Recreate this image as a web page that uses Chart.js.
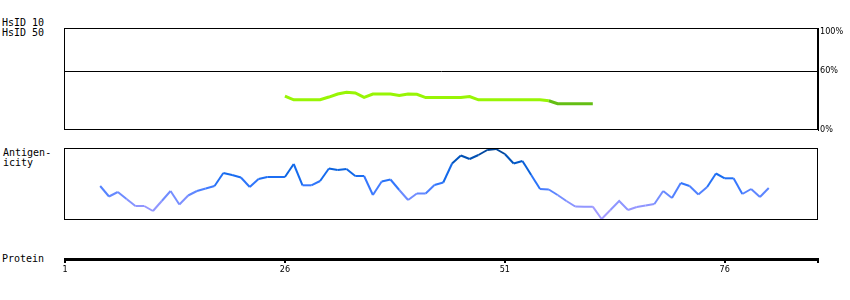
<!DOCTYPE html>
<html><head><meta charset="utf-8">
<script src="https://cdn.jsdelivr.net/npm/chart.js@4/dist/chart.umd.min.js"></script>
<style>
html,body{margin:0;padding:0;background:#fff;width:850px;height:300px;overflow:hidden;}
.lbl{position:absolute;font:10px "DejaVu Sans Mono",monospace;color:#000;line-height:10px;white-space:pre;}
canvas{position:absolute;left:0;}
</style></head><body>
<div class="lbl" style="left:2px;top:18px">HsID 10</div>
<div class="lbl" style="left:2px;top:28px">HsID 50</div>
<div class="lbl" style="left:3px;top:148px">Antigen-
icity</div>
<div class="lbl" style="left:2px;top:254px">Protein</div>
<canvas id="c1" width="850" height="140" style="top:0"></canvas>
<canvas id="c2" width="850" height="90" style="top:140px"></canvas>
<canvas id="c3" width="850" height="50" style="top:240px"></canvas>
<script>
// ---- data ----
const proteinTicks = [1, 26, 51, 76];
const proteinEnd = 86.6;
const identityTicks = [0, 60, 100];

const identityResidues = [26,27,28,29,30,31,32,33,34,35,36,37,38,39,40,41,42,43,44,45,46,47,48,49,50,51,52,53,54,55,56,57,58,59,60,61];
const identityValues   = [34.6,30.8,30.8,30.8,30.8,33.6,36.7,38.5,37.8,33.3,36.6,36.6,36.6,35.1,36.8,36.4,33.1,33.1,33.1,33.1,33.1,34.1,30.8,30.8,30.8,30.8,30.8,30.8,30.8,30.8,29.8,26.8,26.8,26.8,26.8,26.8];
const identityDarkFrom = 56;

const antigenResidues = [5,6,7,8,9,10,11,12,13,14,15,16,17,18,19,20,21,22,23,24,25,26,27,28,29,30,31,32,33,34,35,36,37,38,39,40,41,42,43,44,45,46,47,48,49,50,51,52,53,54,55,56,57,58,59,60,61,62,63,64,65,66,67,68,69,70,71,72,73,74,75,76,77,78,79,80,81];
const antigenValues   = [34,23.5,28,21,14,14,9,19,29,15.5,24.5,29,31.5,34,47,45,42.5,33,41,43,43,43,56,34.7,34.7,39,51.5,50,51,44,44,25,38.5,40.5,30,20,26.5,26.5,35,37.5,56.5,64.5,61,65,70,71,66,56.5,59,45,31,30.5,25,19,13.5,13.3,13.3,1,10,19,10,13,14.5,16,29,22,37,34,25.5,33,46.5,41.7,41.7,26,31,23,32];

// ---- helpers ----
const stops = [[0,[178,160,255]],[12,[150,152,255]],[24,[112,140,255]],[34,[55,120,255]],[45,[22,108,240]],[58,[0,88,200]],[70,[0,68,150]]];
function antigenColor(v){
  if (v <= stops[0][0]) return 'rgb(' + stops[0][1].join(',') + ')';
  for (let i = 1; i < stops.length; i++) {
    if (v <= stops[i][0]) {
      const [a, ca] = stops[i-1], [b, cb] = stops[i];
      const t = (v - a) / (b - a);
      return 'rgb(' + ca.map((c, k) => Math.round(c + (cb[k]-c)*t)).join(',') + ')';
    }
  }
  return 'rgb(' + stops[stops.length-1][1].join(',') + ')';
}
const boxPlugin = {id:'box', afterDraw(chart){
  const {ctx, chartArea:a} = chart;
  ctx.save(); ctx.strokeStyle = '#000'; ctx.lineWidth = 1;
  ctx.strokeRect(Math.round(a.left)-0.5, Math.round(a.top)+0.5, Math.round(a.right-a.left), Math.round(a.bottom-a.top)-1);
  ctx.restore();
}};
const tickFont = {family:'"Liberation Sans Narrow","DejaVu Sans Condensed","DejaVu Sans",sans-serif', size:9};
const common = {responsive:false, animation:false, devicePixelRatio:1, plugins:{legend:{display:false}, tooltip:{enabled:false}}};

// ---- identity chart ----
new Chart(document.getElementById('c1'), {
  type:'line',
  data:{datasets:[{
    data: identityResidues.map((r,i)=>({x:r, y:identityValues[i]})),
    borderWidth:3, pointRadius:0, tension:0,
    borderColor:'rgb(152,245,5)',
    segment:{borderColor: c => c.p0.parsed.x >= identityDarkFrom ? 'rgb(100,190,20)' : 'rgb(152,245,5)'}
  }]},
  options:{...common,
    layout:{padding:{left:65, top:28, right:0, bottom:10}},
    scales:{
      x:{type:'linear', min:1, max:proteinEnd, display:false},
      y:{type:'linear', position:'right', min:0, max:104,
         afterBuildTicks: s => { s.ticks = identityTicks.map(v=>({value:v})); },
         afterFit: s => { s.width = 32; },
         ticks:{callback: v => v + '%', font:tickFont, color:'#000', padding:2},
         grid:{drawTicks:false, color: c => (c.tick && c.tick.value === 60) ? '#000' : 'rgba(0,0,0,0)', lineWidth:1},
         border:{display:true, color:'#000', width:1}
      }
    }
  },
  plugins:[boxPlugin]
});

// ---- antigenicity chart ----
new Chart(document.getElementById('c2'), {
  type:'line',
  data:{datasets:[{
    data: antigenResidues.map((r,i)=>({x:r, y:antigenValues[i]})),
    borderWidth:2, pointRadius:0, tension:0, clip:false,
    borderColor:'#1a6ff0',
    segment:{borderColor: c => antigenColor((c.p0.parsed.y + c.p1.parsed.y)/2)}
  }]},
  options:{...common,
    layout:{padding:{left:65, top:8, right:32, bottom:10}},
    scales:{
      x:{type:'linear', min:1, max:proteinEnd, display:false},
      y:{type:'linear', min:0, max:72, display:false}
    }
  },
  plugins:[boxPlugin]
});

// ---- protein axis ----
new Chart(document.getElementById('c3'), {
  type:'line',
  data:{datasets:[]},
  options:{...common,
    layout:{padding:{left:65, top:0, right:32, bottom:11}},
    scales:{
      x:{type:'linear', min:1, max:proteinEnd, position:'bottom',
         afterBuildTicks: s => { s.ticks = proteinTicks.concat([proteinEnd]).map(v=>({value:v})); },
         afterFit: s => { s.height = 20; },
         ticks:{callback: v => v === proteinEnd ? '' : String(v), autoSkip:false, maxRotation:0, font:tickFont, color:'#000', padding:1},
         grid:{drawOnChartArea:false, drawTicks:true, tickLength:4, color:'#000', lineWidth:2},
         border:{display:true, color:'#000', width:3}
      },
      y:{display:false}
    }
  }
});
</script>
</body></html>
